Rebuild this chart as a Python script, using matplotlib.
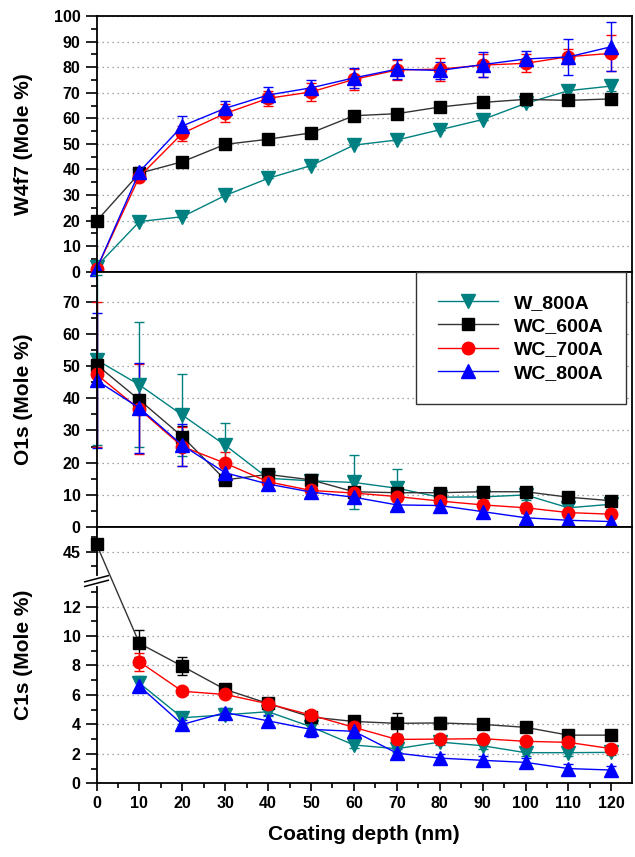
import numpy as np
import matplotlib
matplotlib.use("Agg")
import matplotlib.pyplot as plt
from matplotlib.ticker import MultipleLocator, FixedLocator

plt.rcParams['font.family'] = ['Liberation Sans', 'DejaVu Sans']
plt.rcParams['font.weight'] = 'bold'
plt.rcParams['axes.labelweight'] = 'bold'

DEPTH = [0, 10, 20, 30, 40, 50, 60, 70, 80, 90, 100, 110, 120]
NAMES = ['W_800A', 'WC_600A', 'WC_700A', 'WC_800A']

# W4f7 (top panel)
w800_w = [2, 19.6, 21.5, 29.8, 36.5, 41.5, 49.5, 51.5, 55.5, 59.5, 65.8, 70.8, 72.6]
wc600_w = [19.8, 38.5, 43, 49.8, 51.8, 54.3, 61, 61.8, 64.4, 66.2, 67.4, 67, 67.6]
wc700_w = [1, 37.2, 54.1, 61.9, 67.8, 70.3, 75.2, 78.9, 79.2, 80.8, 81.5, 84.1, 85.4]
wc800_w = [1, 39.1, 57, 63.9, 69.1, 71.9, 75.8, 79.2, 78.7, 81, 83.2, 84, 88]
w800_w_err = [0, 0, 0, 0, 0, 0, 0, 0, 0, 0, 1, 1.5, 2]
wc600_w_err = [0, 0, 0, 0, 0, 0, 0, 0, 0, 0, 0, 0, 0]
wc700_w_err = [0.5, 1.5, 3, 3.5, 3, 3.5, 4, 4, 4.5, 4.5, 3.5, 3, 7]
wc800_w_err = [0.5, 2, 4, 3, 3, 3, 4, 4, 3.5, 5, 3, 7, 9.6]

# O1s (middle panel)
w800_o = [52, 44.2, 34.8, 25.4, 15.1, 14.3, 13.8, 12, 9.2, 9.3, 9.9, 5.9, 7]
wc600_o = [50.5, 39.5, 28.1, 14.6, 16.3, 14.6, 10.9, 10.6, 10.6, 10.9, 10.9, 9.2, 8.1]
wc700_o = [47.5, 36.6, 25, 19.8, 14, 11.3, 10.5, 9.4, 8, 6.8, 5.9, 4.4, 3.9]
wc800_o = [45.6, 37, 25.4, 16.8, 13.3, 10.8, 9.2, 6.8, 6.6, 4.7, 2.8, 2, 1.6]
w800_o_err = [26.5, 19.5, 12.8, 6.8, 1.5, 1.5, 8.4, 6, 1.5, 1.5, 1.5, 1.5, 1.5]
wc600_o_err = [1, 1.5, 3.3, 1.5, 1, 1, 1, 1, 1, 1, 1, 1, 1]
wc700_o_err = [22.5, 14, 6, 3.6, 1, 1.5, 1.5, 1.5, 1.5, 1.5, 1.5, 1, 1]
wc800_o_err = [21, 14, 6.6, 1.5, 1.5, 1.5, 1.5, 1.5, 1.5, 1.5, 1.5, 1, 1]

# C1s (bottom panel); only WC_600A has a value at 0 nm
wc600_c = [45.5, 9.5, 7.95, 6.37, 5.42, 4.5, 4.2, 4.07, 4.1, 4.0, 3.8, 3.27, 3.27]
w800_c = [6.8, 4.45, 4.65, 4.86, 3.84, 2.6, 2.35, 2.8, 2.55, 2.08, 2.08, 2.1]
wc700_c = [8.25, 6.25, 6.03, 5.4, 4.63, 3.8, 2.98, 3.0, 3.03, 2.85, 2.78, 2.35]
wc800_c = [6.6, 4.0, 4.8, 4.24, 3.66, 3.53, 2.05, 1.71, 1.56, 1.42, 1.0, 0.9]
wc600_c_err = [0, 0.9, 0.6, 0.2, 0.2, 0.2, 0.2, 0.7, 0.4, 0.2, 0.3, 0.2, 0.2]
w800_c_err = [0.5, 0.4, 0.2, 0.3, 0.2, 0.2, 0.2, 0.2, 0.2, 0.2, 0.2, 0.2]
wc700_c_err = [0.6, 0.2, 0.2, 0.2, 0.2, 0.2, 0.2, 0.2, 0.2, 0.2, 0.2, 0.2]
wc800_c_err = [0.4, 0.3, 0.3, 0.4, 0.5, 0.3, 0.3, 0.3, 0.3, 0.3, 0.3, 0.3]

COLORS = ['#008080', 'black', '#ff0000', '#0000ff']
MARKERS = ['v', 's', 'o', '^']
MSIZES = [10, 8.5, 9, 10]

# broken y axis for C1s: 13.7..43 squeezed out
B1, B2, EPS = 13.7, 43.0, 1e-3
T2 = B1 + (B2 - B1) * EPS


def fwd(y):
    y = np.asarray(y, float)
    return np.where(y <= B1, y, np.where(y >= B2, y - B2 + T2, B1 + (y - B1) * EPS))


def inv(t):
    t = np.asarray(t, float)
    return np.where(t <= B1, t, np.where(t >= T2, t - T2 + B2, B1 + (t - B1) / EPS))


def draw(ax, xs, ys, errs):
    handles = []
    for x, y, e, c, m, ms in zip(xs, ys, errs, COLORS, MARKERS, MSIZES):
        cont = ax.errorbar(x, y, yerr=e, color=c, marker=m, ms=ms, lw=1, elinewidth=1,
                           capsize=3.5, capthick=1, clip_on=False)
        if c == 'black':
            cont[0].set_color('#333333')
            cont[0].set_markerfacecolor('black')
            cont[0].set_markeredgecolor('black')
        handles.append(cont[0])
    return handles


def style(ax, label):
    for s in ax.spines.values():
        s.set_linewidth(1.3)
    ax.set_xlim(0, 124.7)
    ax.xaxis.set_major_locator(MultipleLocator(10))
    ax.tick_params(axis='y', which='major', direction='out', length=8, width=1.2, labelsize=11.5)
    ax.tick_params(axis='y', which='minor', direction='out', length=4, width=1.2)
    ax.tick_params(axis='x', which='major', direction='out', length=6, width=1.2, labelsize=11.5)
    ax.tick_params(axis='x', which='minor', direction='out', length=3.5, width=1.2)
    ax.grid(axis='y', which='major', linestyle=(0, (1, 3)), color='#888888', lw=0.9)
    ax.set_ylabel(label, fontsize=15)
    ax.yaxis.set_label_coords(-0.118, 0.5)


fig = plt.figure(figsize=(6.35, 8.57), dpi=100)
L, W = 0.152, 0.8425
ax1 = fig.add_axes([L, 0.683, W, 0.2983])
ax2 = fig.add_axes([L, 0.3854, W, 0.2976])
ax3 = fig.add_axes([L, 0.086, W, 0.2995])

# top
draw(ax1, [DEPTH] * 4, [w800_w, wc600_w, wc700_w, wc800_w],
     [w800_w_err, wc600_w_err, wc700_w_err, wc800_w_err])
ax1.set_ylim(0, 100)
ax1.yaxis.set_major_locator(MultipleLocator(10))
ax1.yaxis.set_minor_locator(MultipleLocator(5))
style(ax1, 'W4f7 (Mole %)')
ax1.tick_params(axis='x', labelbottom=False)

# middle
hs = draw(ax2, [DEPTH] * 4, [w800_o, wc600_o, wc700_o, wc800_o],
          [w800_o_err, wc600_o_err, wc700_o_err, wc800_o_err])
ax2.set_ylim(0, 79.5)
ax2.yaxis.set_major_locator(MultipleLocator(10))
ax2.yaxis.set_minor_locator(MultipleLocator(5))
style(ax2, 'O1s (Mole %)')
ax2.tick_params(axis='x', labelbottom=False)
leg = ax2.legend(hs, NAMES, loc='upper right', bbox_to_anchor=(0.99, 1.0), borderaxespad=0,
                 fontsize=14, handlelength=3.1, handletextpad=0.8, labelspacing=0.3,
                 borderpad=1.15, fancybox=False, framealpha=1, edgecolor='#333333')
leg.get_frame().set_linewidth(1.0)

# bottom
ax3.set_yscale('function', functions=(fwd, inv))
draw(ax3, [DEPTH[1:], DEPTH, DEPTH[1:], DEPTH[1:]],
     [w800_c, wc600_c, wc700_c, wc800_c],
     [w800_c_err, wc600_c_err, wc700_c_err, wc800_c_err])
ax3.set_ylim(0, 46.7)
ax3.yaxis.set_major_locator(FixedLocator([0, 2, 4, 6, 8, 10, 12, 45]))
ax3.yaxis.set_minor_locator(FixedLocator([1, 3, 5, 7, 9, 11, 13, 44, 46]))
ax3.xaxis.set_minor_locator(MultipleLocator(5))
style(ax3, 'C1s (Mole %)')
ax3.set_xlabel('Coating depth (nm)', fontsize=15, labelpad=10)

# axis break marks
yb = 0.788
ax3.plot([0, 0], [yb - 0.012, yb + 0.012], color='white', lw=3, transform=ax3.transAxes,
         clip_on=False, zorder=5)
for dy in (-0.009, 0.009):
    ax3.plot([-0.022, 0.022], [yb + dy - 0.012, yb + dy + 0.012], color='black', lw=1.1,
             transform=ax3.transAxes, clip_on=False, zorder=6)

fig.savefig('out.png', dpi=100)
